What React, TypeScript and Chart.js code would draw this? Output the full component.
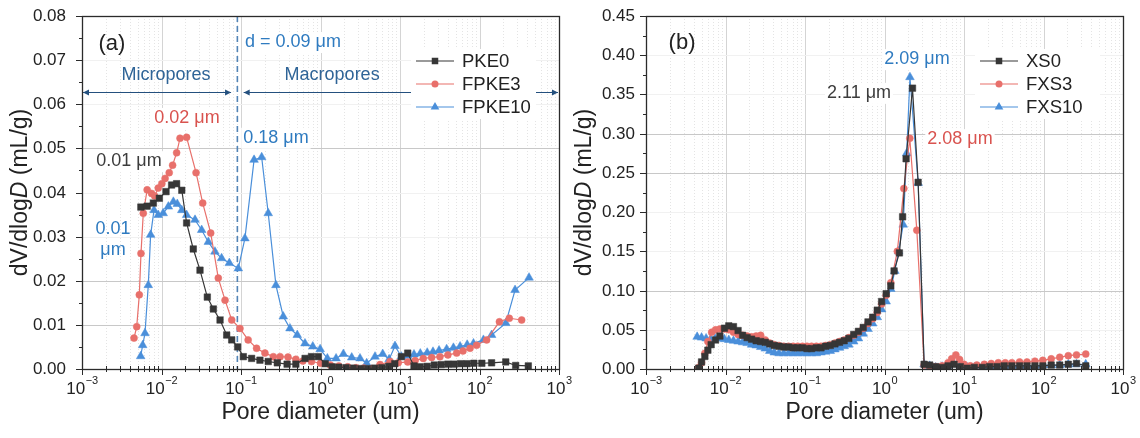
import React, { useEffect, useRef } from "react";
import { Chart, registerables } from "chart.js";

Chart.register(...registerables);

const FONT = "'Liberation Sans', Arial, Helvetica, sans-serif";

// ---------------- Panel (a) data ----------------
const pke0X = [0.0055, 0.0066, 0.0079, 0.0094, 0.0114, 0.0134, 0.0155, 0.018, 0.0207, 0.0251, 0.0305, 0.0377, 0.0449, 0.0545, 0.0661, 0.0764, 0.0908, 0.107, 0.136, 0.173, 0.22, 0.286, 0.38, 0.49, 0.64, 0.77, 0.94, 1.15, 1.4, 1.7, 2.1, 2.6, 3.2, 3.9, 4.8, 5.9, 7.2, 8.6, 10.4, 12.5, 15, 18, 22, 27, 33, 40, 48, 58, 70, 85, 107, 142, 214, 285, 411];
const pke0Y = [0.0367, 0.0369, 0.0376, 0.0387, 0.0402, 0.0417, 0.042, 0.0405, 0.0331, 0.0272, 0.0224, 0.0163, 0.0136, 0.0111, 0.0077, 0.0066, 0.005, 0.0028, 0.0024, 0.002, 0.0017, 0.0014, 0.0011, 0.0011, 0.0024, 0.0028, 0.0028, 0.0012, 0.0005, 0.0004, 0.0003, 0.0002, 0.0001, 0.0001, 0.0002, 0.0003, 0.0006, 0.0012, 0.0028, 0.0036, 0.0007, 0.0005, 0.0006, 0.0009, 0.001, 0.0011, 0.0011, 0.0012, 0.0012, 0.0013, 0.0013, 0.0014, 0.0016, 0.0008, 0.0007];

const fpke3X = [0.00451, 0.00488, 0.00526, 0.00552, 0.0059, 0.0066, 0.0075, 0.0082, 0.0091, 0.0101, 0.0111, 0.0125, 0.0138, 0.0155, 0.0171, 0.0207, 0.0272, 0.033, 0.0416, 0.0518, 0.063, 0.0764, 0.097, 0.123, 0.157, 0.2, 0.255, 0.31, 0.39, 0.49, 0.6, 0.77, 1.0, 1.33, 1.7, 2.2, 2.8, 3.5, 4.4, 5.6, 7.5, 9.5, 12.5, 15.5, 19.6, 25, 31.8, 40, 51.6, 62, 76, 92, 123, 178, 237, 339];
const fpke3Y = [0.007, 0.0096, 0.0168, 0.0262, 0.0353, 0.0406, 0.0398, 0.0392, 0.041, 0.042, 0.0432, 0.0445, 0.0462, 0.049, 0.0523, 0.0525, 0.0445, 0.0376, 0.0308, 0.0206, 0.0156, 0.0111, 0.0092, 0.0066, 0.0047, 0.0036, 0.0028, 0.0028, 0.0027, 0.0022, 0.0018, 0.0017, 0.0013, 0.0009, 0.0007, 0.0005, 0.0003, 0.0002, 0.0001, 0.001, 0.0017, 0.0014, 0.0016, 0.0019, 0.0024, 0.0026, 0.0028, 0.0032, 0.0036, 0.0041, 0.0047, 0.0054, 0.0066, 0.0107, 0.0115, 0.0111];

const fpke10X = [0.00547, 0.0058, 0.0062, 0.00682, 0.0073, 0.00805, 0.0091, 0.0105, 0.0122, 0.0141, 0.0158, 0.018, 0.0207, 0.0264, 0.032, 0.0388, 0.047, 0.057, 0.0713, 0.0925, 0.112, 0.146, 0.182, 0.22, 0.275, 0.34, 0.413, 0.51, 0.638, 0.8, 0.99, 1.22, 1.57, 1.94, 2.47, 3.14, 3.81, 4.85, 6.06, 7.3, 8.65, 10.4, 12.5, 15, 18, 22, 26, 31, 38.6, 47, 57, 70, 84, 112, 142, 214, 280, 420];
const fpke10Y = [0.0029, 0.0054, 0.0081, 0.019, 0.0304, 0.036, 0.0349, 0.0353, 0.0368, 0.0379, 0.0374, 0.036, 0.0349, 0.0338, 0.0315, 0.0288, 0.0266, 0.0251, 0.024, 0.0228, 0.0296, 0.0474, 0.048, 0.0353, 0.019, 0.0119, 0.0092, 0.0077, 0.0058, 0.0051, 0.0045, 0.0024, 0.0024, 0.0034, 0.0026, 0.0024, 0.0013, 0.0028, 0.0034, 0.0022, 0.0052, 0.0028, 0.003, 0.0033, 0.0035, 0.0037, 0.0039, 0.0042, 0.0045, 0.0048, 0.0051, 0.0055, 0.0058, 0.0066, 0.0077, 0.0104, 0.0179, 0.0207];

// ---------------- Panel (b) data ----------------
const xs0X = [0.0046, 0.005, 0.0055, 0.006, 0.0066, 0.0075, 0.0085, 0.0097, 0.011, 0.0126, 0.0144, 0.0164, 0.0187, 0.0213, 0.0243, 0.0277, 0.0316, 0.036, 0.041, 0.047, 0.054, 0.062, 0.071, 0.081, 0.093, 0.106, 0.121, 0.139, 0.159, 0.182, 0.208, 0.238, 0.272, 0.311, 0.356, 0.41, 0.47, 0.54, 0.62, 0.71, 0.81, 0.92, 1.05, 1.2, 1.32, 1.54, 1.69, 1.87, 2.25, 2.65, 3.15, 3.7, 4.4, 5.3, 6.3, 7.5, 9.0, 11, 13.5, 17, 21, 26, 32, 40, 50, 62, 78, 98, 125, 160, 205, 260, 340];
const xs0Y = [0.001, 0.009, 0.016, 0.024, 0.031, 0.037, 0.042, 0.052, 0.055, 0.054, 0.049, 0.043, 0.04, 0.038, 0.036, 0.035, 0.034, 0.032, 0.03, 0.029, 0.028, 0.028, 0.027, 0.027, 0.027, 0.026, 0.026, 0.027, 0.027, 0.029, 0.03, 0.032, 0.034, 0.036, 0.039, 0.044, 0.048, 0.053, 0.06, 0.066, 0.075, 0.086, 0.096, 0.106, 0.125, 0.148, 0.194, 0.268, 0.358, 0.238, 0.006, 0.005, 0.003, 0.002, 0.004, 0.006, 0.003, 0.001, 0.002, 0.002, 0.003, 0.003, 0.004, 0.004, 0.004, 0.004, 0.004, 0.004, 0.005, 0.005, 0.006, 0.007, 0.004];

const fxs3X = [0.0046, 0.005, 0.0055, 0.006, 0.0067, 0.0075, 0.0085, 0.0097, 0.011, 0.0126, 0.0144, 0.0164, 0.0187, 0.0213, 0.0243, 0.0277, 0.0316, 0.036, 0.041, 0.047, 0.054, 0.062, 0.071, 0.081, 0.093, 0.106, 0.121, 0.139, 0.159, 0.182, 0.208, 0.238, 0.272, 0.311, 0.356, 0.41, 0.47, 0.54, 0.62, 0.71, 0.81, 0.92, 1.05, 1.2, 1.45, 1.75, 2.08, 2.55, 3.15, 3.7, 4.4, 5.3, 6.3, 7.0, 7.9, 8.8, 10, 12, 14.5, 18, 22, 27, 33, 40, 50, 62, 78, 98, 125, 160, 205, 260, 340];
const fxs3Y = [0.002, 0.008, 0.02, 0.035, 0.047, 0.05, 0.051, 0.051, 0.05, 0.047, 0.044, 0.043, 0.042, 0.041, 0.042, 0.043, 0.037, 0.033, 0.031, 0.03, 0.029, 0.029, 0.029, 0.029, 0.029, 0.029, 0.029, 0.029, 0.029, 0.03, 0.031, 0.033, 0.035, 0.037, 0.04, 0.043, 0.047, 0.052, 0.058, 0.064, 0.072, 0.083, 0.094, 0.11, 0.15, 0.23, 0.294, 0.177, 0.005, 0.004, 0.003, 0.004, 0.008, 0.013, 0.018, 0.012, 0.006, 0.004, 0.005, 0.006, 0.007, 0.008, 0.008, 0.008, 0.009, 0.009, 0.01, 0.011, 0.013, 0.015, 0.017, 0.018, 0.019];

const fxs10X = [0.0044, 0.005, 0.0057, 0.0065, 0.0074, 0.0085, 0.0097, 0.011, 0.0126, 0.0144, 0.0164, 0.0187, 0.0213, 0.0243, 0.0277, 0.0316, 0.036, 0.041, 0.047, 0.054, 0.062, 0.071, 0.081, 0.093, 0.106, 0.121, 0.139, 0.159, 0.182, 0.208, 0.238, 0.272, 0.311, 0.356, 0.41, 0.47, 0.54, 0.62, 0.71, 0.81, 0.92, 1.05, 1.2, 1.35, 1.5, 1.72, 1.9, 2.09, 2.65, 3.15, 3.7, 4.4, 5.3, 6.3, 7.5, 9.0, 11, 13.5, 17, 21, 26, 32, 40, 50, 62, 78, 98, 125, 160, 205, 260, 340];
const fxs10Y = [0.041, 0.04, 0.039, 0.038, 0.039, 0.039, 0.038, 0.037, 0.036, 0.035, 0.034, 0.033, 0.031, 0.03, 0.028, 0.026, 0.023, 0.021, 0.02, 0.02, 0.02, 0.02, 0.02, 0.02, 0.02, 0.02, 0.02, 0.021, 0.022, 0.023, 0.025, 0.027, 0.029, 0.031, 0.035, 0.039, 0.045, 0.051, 0.058, 0.066, 0.076, 0.086, 0.102, 0.125, 0.15, 0.184, 0.275, 0.372, 0.237, 0.006, 0.004, 0.002, 0.003, 0.004, 0.006, 0.004, 0.002, 0.002, 0.003, 0.003, 0.003, 0.003, 0.004, 0.004, 0.004, 0.004, 0.005, 0.005, 0.005, 0.006, 0.006, 0.006];

// ---------------- ticks ----------------
const xTickExps = [-3, -2, -1, 0, 1, 2, 3];
const yTicksA = [0, 0.01, 0.02, 0.03, 0.04, 0.05, 0.06, 0.07, 0.08];
const yStrongA = [0.01, 0.02, 0.05];
const yTicksB = [0, 0.05, 0.1, 0.15, 0.2, 0.25, 0.3, 0.35, 0.4, 0.45];
const yStrongB = [0.1, 0.25, 0.3];

const C_DARK = "#363636";
const C_RED = "#E8706B";
const C_BLUE = "#4A8FDA";
const T_RED = "#D9534F";
const T_BLUE = "#2F7BC0";
const T_DARK = "#3c3c3c";
const T_NAVY = "#2F6497";

const NOTE_SIZE = 18;
const TICK_SIZE = 17;
const TITLE_SIZE = 23;
const LEGEND_SIZE = 18.5;

type Marker = "rect" | "circle" | "triangle";
interface SeriesCfg { label: string; xs: number[]; ys: number[]; color: string; marker: Marker; radius: number; }
interface Note { text: string; x: number; y: number; color: string; size?: number; align?: CanvasTextAlign; bg?: boolean; }
interface PanelCfg {
  series: SeriesCfg[];
  yMax: number; yStep: number; yTicks: number[]; yStrong: number[]; decimals: number;
  axisLeft: number; padRight: number; yLabelGap: number; canvasWidth: number;
  notes: Note[];
  divider?: { x: number; arrowY: number; leftEnd: number; rightStart: number };
}

const panelA: PanelCfg = {
  series: [
    { label: "PKE0", xs: pke0X, ys: pke0Y, color: C_DARK, marker: "rect", radius: 4.6 },
    { label: "FPKE3", xs: fpke3X, ys: fpke3Y, color: C_RED, marker: "circle", radius: 3.5 },
    { label: "FPKE10", xs: fpke10X, ys: fpke10Y, color: C_BLUE, marker: "triangle", radius: 5 },
  ],
  yMax: 0.08, yStep: 0.01, yTicks: yTicksA, yStrong: yStrongA, decimals: 2,
  axisLeft: 82, padRight: 26, yLabelGap: 16, canvasWidth: 585,
  notes: [
    { text: "(a)", x: 0.00238, y: 0.0737, color: "#222", size: 22 },
    { text: "d = 0.09 \u03bcm", x: 0.1122, y: 0.0741, color: T_BLUE, align: "left", bg: true },
    { text: "Micropores", x: 0.0114, y: 0.0666, color: T_NAVY },
    { text: "Macropores", x: 1.4, y: 0.0666, color: T_NAVY },
    { text: "0.02 \u03bcm", x: 0.0209, y: 0.0569, color: T_RED, bg: true },
    { text: "0.01 \u03bcm", x: 0.0039, y: 0.0471, color: T_DARK, bg: true },
    { text: "0.01", x: 0.00245, y: 0.0317, color: T_BLUE },
    { text: "\u03bcm", x: 0.00245, y: 0.027, color: T_BLUE },
    { text: "0.18 \u03bcm", x: 0.275, y: 0.0524, color: T_BLUE, bg: true },
  ],
  divider: { x: 0.09, arrowY: 0.0628, leftEnd: 0.075, rightStart: 0.108 },
};

const panelB: PanelCfg = {
  series: [
    { label: "XS0", xs: xs0X, ys: xs0Y, color: C_DARK, marker: "rect", radius: 4.6 },
    { label: "FXS3", xs: fxs3X, ys: fxs3Y, color: C_RED, marker: "circle", radius: 3.5 },
    { label: "FXS10", xs: fxs10X, ys: fxs10Y, color: C_BLUE, marker: "triangle", radius: 5 },
  ],
  yMax: 0.45, yStep: 0.05, yTicks: yTicksB, yStrong: yStrongB, decimals: 2,
  axisLeft: 76, padRight: 17, yLabelGap: 11, canvasWidth: 570,
  notes: [
    { text: "(b)", x: 0.00284, y: 0.4156, color: "#222", size: 22 },
    { text: "2.09 \u03bcm", x: 2.56, y: 0.395, color: T_BLUE, bg: true },
    { text: "2.11 \u03bcm", x: 0.478, y: 0.352, color: T_DARK, bg: true },
    { text: "2.08 \u03bcm", x: 8.9, y: 0.293, color: T_RED, bg: true },
  ],
};

function drawMarker(ctx: CanvasRenderingContext2D, m: Marker, x: number, y: number, r: number, color: string) {
  ctx.fillStyle = color;
  ctx.beginPath();
  if (m === "rect") {
    const s = r * Math.SQRT1_2;
    ctx.rect(x - s, y - s, 2 * s, 2 * s);
  } else if (m === "circle") {
    ctx.arc(x, y, r, 0, Math.PI * 2);
  } else {
    ctx.moveTo(x, y - r);
    ctx.lineTo(x + 0.866 * r, y + 0.5 * r);
    ctx.lineTo(x - 0.866 * r, y + 0.5 * r);
    ctx.closePath();
  }
  ctx.fill();
}

function line(ctx: CanvasRenderingContext2D, x1: number, y1: number, x2: number, y2: number) {
  ctx.beginPath();
  ctx.moveTo(x1, y1);
  ctx.lineTo(x2, y2);
  ctx.stroke();
}

function makePlugin(p: PanelCfg) {
  return {
    id: "panelDecor",
    beforeDatasetsDraw(chart: any) {
      const { ctx, chartArea: a } = chart;
      const xs = chart.scales.x;
      const ys = chart.scales.y;
      ctx.save();
      ctx.lineWidth = 1;
      for (let e = -3; e < 3; e++) {
        for (let m = 1; m <= 9; m++) {
          const px = Math.round(xs.getPixelForValue(m * Math.pow(10, e))) + 0.5;
          if (px <= a.left + 1) continue;
          if (m === 1) { ctx.setLineDash([]); ctx.strokeStyle = "#d4d4d4"; }
          else { ctx.setLineDash([1, 2]); ctx.strokeStyle = "#e4e4e4"; }
          line(ctx, px, a.top, px, a.bottom);
        }
      }
      ctx.setLineDash([]);
      p.yTicks.forEach((v) => {
        if (v <= 0 || v >= p.yMax - 1e-9) return;
        const strong = p.yStrong.some((s) => Math.abs(s - v) < 1e-9);
        const py = Math.round(ys.getPixelForValue(v)) + 0.5;
        ctx.strokeStyle = strong ? "#c8c8c8" : "#f1f1f1";
        line(ctx, a.left, py, a.right, py);
      });
      if (p.divider) {
        const d = p.divider;
        const dx = xs.getPixelForValue(d.x);
        ctx.strokeStyle = "#5284b6";
        ctx.lineWidth = 1.6;
        ctx.setLineDash([6, 4]);
        line(ctx, dx, a.top, dx, a.bottom);
        ctx.setLineDash([]);
        const ay = Math.round(ys.getPixelForValue(d.arrowY)) + 0.5;
        const seg = (x1: number, x2: number) => {
          ctx.strokeStyle = "#24507e";
          ctx.fillStyle = "#24507e";
          ctx.lineWidth = 1.2;
          line(ctx, x1, ay, x2, ay);
          ctx.beginPath();
          ctx.moveTo(x1, ay); ctx.lineTo(x1 + 6, ay - 3); ctx.lineTo(x1 + 6, ay + 3); ctx.closePath(); ctx.fill();
          ctx.beginPath();
          ctx.moveTo(x2, ay); ctx.lineTo(x2 - 6, ay - 3); ctx.lineTo(x2 - 6, ay + 3); ctx.closePath(); ctx.fill();
        };
        seg(a.left + 1, xs.getPixelForValue(d.leftEnd));
        seg(xs.getPixelForValue(d.rightStart), a.right - 1);
      }
      ctx.restore();
    },
    afterDatasetsDraw(chart: any) {
      const { ctx, chartArea: a } = chart;
      const xs = chart.scales.x;
      const ys = chart.scales.y;
      ctx.save();
      // legend
      ctx.fillStyle = "#fff";
      ctx.fillRect(a.right - 148, a.top + 33, 125, 70);
      const lx0 = a.right - 143, lx1 = a.right - 105, tx = a.right - 97;
      p.series.forEach((s, i) => {
        const y = a.top + 45 + i * 23;
        ctx.strokeStyle = s.color;
        ctx.lineWidth = 1.2;
        line(ctx, lx0, y, lx1, y);
        drawMarker(ctx, s.marker, (lx0 + lx1) / 2, y, s.radius, s.color);
        ctx.fillStyle = "#222";
        ctx.font = `${LEGEND_SIZE}px ${FONT}`;
        ctx.textAlign = "left";
        ctx.textBaseline = "middle";
        ctx.fillText(s.label, tx, y + 1);
      });
      // notes
      p.notes.forEach((n) => {
        const px = xs.getPixelForValue(n.x);
        const py = ys.getPixelForValue(n.y);
        const size = n.size ?? NOTE_SIZE;
        ctx.font = `${size}px ${FONT}`;
        const w = ctx.measureText(n.text).width;
        const align = n.align ?? "center";
        const left = align === "center" ? px - w / 2 : align === "left" ? px : px - w;
        if (n.bg) { ctx.fillStyle = "#fff"; ctx.fillRect(left - 2, py - size / 2 - 1, w + 4, size + 3); }
        ctx.fillStyle = n.color;
        ctx.textAlign = align;
        ctx.textBaseline = "middle";
        ctx.fillText(n.text, px, py);
      });
      // frame
      ctx.strokeStyle = "#2b2b2b";
      ctx.lineWidth = 1.3;
      ctx.strokeRect(Math.round(a.left) + 0.5, Math.round(a.top) + 0.5, Math.round(a.right - a.left), Math.round(a.bottom - a.top));
      // y ticks + labels
      ctx.lineWidth = 1;
      ctx.fillStyle = "#222";
      ctx.font = `${TICK_SIZE}px ${FONT}`;
      ctx.textAlign = "right";
      ctx.textBaseline = "middle";
      p.yTicks.forEach((v, i) => {
        const py = Math.round(ys.getPixelForValue(v)) + 0.5;
        line(ctx, a.left - 6, py, a.left, py);
        if (i < p.yTicks.length - 1) {
          const pm = Math.round(ys.getPixelForValue(v + p.yStep / 2)) + 0.5;
          line(ctx, a.left - 3, pm, a.left, pm);
        }
        ctx.fillText(v.toFixed(p.decimals), a.left - p.yLabelGap, py);
      });
      // x ticks + labels
      for (let e = -3; e < 3; e++) {
        for (let m = 2; m <= 9; m++) {
          const px = Math.round(xs.getPixelForValue(m * Math.pow(10, e))) + 0.5;
          line(ctx, px, a.bottom - 3, px, a.bottom + 3);
        }
      }
      xTickExps.forEach((e) => {
        const px = xs.getPixelForValue(Math.pow(10, e));
        line(ctx, Math.round(px) + 0.5, a.bottom, Math.round(px) + 0.5, a.bottom + 6);
        const ex = e < 0 ? "\u2212" + Math.abs(e) : String(e);
        ctx.font = `${TICK_SIZE}px ${FONT}`;
        const w1 = ctx.measureText("10").width;
        ctx.font = `11px ${FONT}`;
        const w2 = ctx.measureText(ex).width;
        const start = px - (w1 + w2) / 2;
        ctx.textAlign = "left";
        ctx.textBaseline = "alphabetic";
        ctx.font = `${TICK_SIZE}px ${FONT}`;
        ctx.fillText("10", start, a.bottom + 25);
        ctx.font = `11px ${FONT}`;
        ctx.fillText(ex, start + w1 + 0.5, a.bottom + 15);
      });
      // x title
      ctx.font = `${TITLE_SIZE}px ${FONT}`;
      ctx.textAlign = "center";
      ctx.textBaseline = "middle";
      ctx.fillText("Pore diameter (um)", (a.left + a.right) / 2, a.bottom + 44);
      // y title with italic D
      ctx.translate(a.left - 61, (a.top + a.bottom) / 2);
      ctx.rotate(-Math.PI / 2);
      const parts: [string, boolean][] = [["dV/dlog", false], ["D", true], [" (mL/g)", false]];
      let total = 0;
      parts.forEach(([t, it]) => { ctx.font = `${it ? "italic " : ""}${TITLE_SIZE}px ${FONT}`; total += ctx.measureText(t).width; });
      let cx = -total / 2;
      ctx.textAlign = "left";
      parts.forEach(([t, it]) => {
        ctx.font = `${it ? "italic " : ""}${TITLE_SIZE}px ${FONT}`;
        ctx.fillText(t, cx, 0);
        cx += ctx.measureText(t).width;
      });
      ctx.restore();
    },
  };
}

function Panel({ cfg, left }: { cfg: PanelCfg; left: number }) {
  const ref = useRef<HTMLCanvasElement>(null);
  useEffect(() => {
    if (!ref.current) return;
    const chart = new Chart(ref.current, {
      type: "scatter",
      data: {
        datasets: cfg.series.map((s) => ({
          label: s.label,
          data: s.xs.map((x, i) => ({ x, y: s.ys[i] })),
          borderColor: s.color,
          backgroundColor: s.color,
          pointBackgroundColor: s.color,
          pointBorderColor: s.color,
          pointStyle: s.marker,
          pointRadius: s.radius,
          pointBorderWidth: 0.5,
          borderWidth: 1.2,
          showLine: true,
          tension: 0,
        })),
      },
      options: {
        responsive: false,
        animation: false,
        devicePixelRatio: 1,
        events: [],
        layout: { padding: { top: 16, right: cfg.padRight, left: 0, bottom: 0 } },
        plugins: { legend: { display: false }, tooltip: { enabled: false }, title: { display: false } },
        scales: {
          x: {
            type: "logarithmic", min: 0.001, max: 1000,
            grid: { display: false }, border: { display: false }, ticks: { display: false },
            afterFit: (s: any) => { s.height = 69; },
          },
          y: {
            type: "linear", min: 0, max: cfg.yMax,
            grid: { display: false }, border: { display: false }, ticks: { display: false, stepSize: cfg.yStep },
            afterFit: (s: any) => { s.width = cfg.axisLeft; },
          },
        },
      } as any,
      plugins: [makePlugin(cfg) as any],
    });
    return () => chart.destroy();
  }, [cfg]);
  return (
    <canvas
      ref={ref}
      width={cfg.canvasWidth}
      height={438}
      style={{ position: "absolute", left, top: 0, width: cfg.canvasWidth, height: 438 }}
    />
  );
}

export default function App() {
  return (
    <div style={{ position: "absolute", left: 0, top: 0, width: 1140, height: 438, background: "#fff" }}>
      <Panel cfg={panelA} left={0} />
      <Panel cfg={panelB} left={570} />
    </div>
  );
}
